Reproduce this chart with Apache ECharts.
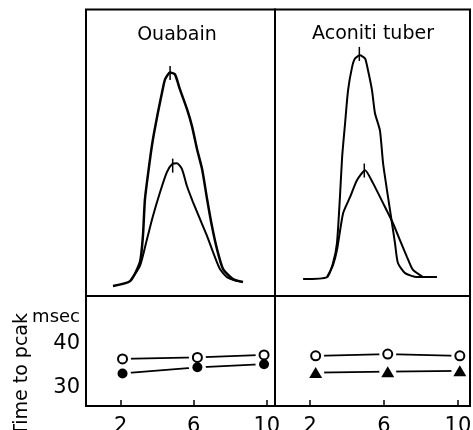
<!DOCTYPE html>
<html>
<head>
<meta charset="utf-8">
<script src="https://cdn.jsdelivr.net/npm/echarts@6/dist/echarts.min.js"></script>
<style>
  html, body { margin: 0; padding: 0; background: #fff; }
  #main { width: 473px; height: 430px; }
</style>
</head>
<body>
<div id="main"></div>
<script>
// top panels: action potential traces, [time, amplitude] in arbitrary units
const ouabainHigh = [[14.5, 3.5], [23.7, 5.2], [29.0, 11.8], [30.6, 20.9], [31.7, 33.8], [34.4, 47.7], [36.0, 54.7],
  [38.7, 64.1], [40.9, 71.1], [42.5, 75.6], [45.2, 78.0], [47.8, 77.4], [50.5, 72.1], [54.3, 65.2], [57.0, 59.2],
  [59.7, 51.2], [62.4, 44.3], [65.1, 33.8], [67.7, 24.4], [70.4, 16.4], [73.7, 9.4], [79.0, 5.9], [84.4, 4.9]];
const ouabainLow = [[23.7, 5.2], [29.0, 10.5], [32.8, 19.9], [36.0, 27.9], [39.8, 36.2], [43.5, 43.2], [46.2, 46.0],
  [48.9, 46.3], [51.6, 44.3], [54.3, 38.3], [57.5, 32.8], [61.3, 26.8], [65.1, 20.9], [68.3, 15.3], [72.0, 9.4],
  [75.8, 6.6], [81.2, 5.2]];
const aconitiHigh = [[15.7, 5.9], [27.8, 6.6], [30.8, 11.5], [32.8, 18.5], [34.3, 34.5], [35.4, 48.4], [36.9, 60.3],
  [38.4, 71.8], [40.4, 79.8], [41.9, 82.9], [44.4, 84.0], [47.0, 82.9], [48.5, 78.7], [50.5, 71.8], [52.0, 63.8],
  [54.5, 57.8], [56.1, 46.3], [58.6, 34.5], [60.6, 25.4], [62.1, 18.5], [63.6, 11.5], [67.2, 8.0], [73.2, 6.6], [83.3, 6.6]];
const aconitiLow = [[27.8, 6.6], [30.8, 10.8], [32.8, 16.0], [35.9, 28.9], [39.4, 34.5], [42.9, 40.4], [47.0, 43.9],
  [51.0, 39.4], [56.1, 32.4], [61.1, 25.4], [64.6, 19.5], [68.2, 13.6], [71.2, 9.1], [76.3, 6.6]];
const ouabainPeaks = [[45.2, 77.8], [46.6, 45.5]];
const aconitiPeaks = [[44.1, 84.5], [46.6, 43.8]];

// bottom panels: time to peak (msec)
const ouabainX = [2.1, 6.2, 9.85];
const ouabainOpen = [36.4, 36.75, 37.3];
const ouabainFilled = [33.1, 34.5, 35.2];
const aconitiX = [2.3, 6.2, 10.1];
const aconitiOpen = [37.1, 37.5, 37.1];
const aconitiTri = [33.3, 33.5, 33.7];
const xTicks = [2, 6, 10];
const yTicks = [30, 40];

const FONT = 'DejaVu Sans';
const pairs = (xs, ys) => xs.map((x, i) => [x, ys[i]]);

const chart = echarts.init(document.getElementById('main'));

const gridBase = { show: true, borderColor: '#000', borderWidth: 2, backgroundColor: 'transparent', outerBoundsMode: 'none' };
const hiddenAxis = { show: false };

function traceSeries(data, idx, width) {
  return {
    type: 'line', xAxisIndex: idx, yAxisIndex: idx, data: data,
    showSymbol: false, smooth: 0.2, silent: true,
    lineStyle: { color: '#000', width: width }
  };
}
function peakSeries(data, idx) {
  return {
    type: 'scatter', xAxisIndex: idx, yAxisIndex: idx, data: data,
    symbol: 'rect', symbolSize: [1.5, 14], itemStyle: { color: '#000', opacity: 1 }, silent: true
  };
}
function tpLine(data, idx) {
  return {
    type: 'line', xAxisIndex: idx, yAxisIndex: idx, data: data, z: 2,
    showSymbol: false, silent: true, lineStyle: { color: '#000', width: 1.7 }
  };
}
function tpMask(data, idx) {
  return {
    type: 'scatter', xAxisIndex: idx, yAxisIndex: idx, data: data, z: 3,
    symbol: 'circle', symbolSize: 17, itemStyle: { color: '#fff', opacity: 1 }, silent: true
  };
}
function tpMarks(data, idx, symbol, size) {
  return {
    type: 'scatter', xAxisIndex: idx, yAxisIndex: idx, data: data, z: 4,
    symbol: symbol, symbolSize: size, silent: true,
    itemStyle: { color: '#000', opacity: 1, borderWidth: symbol === 'emptyCircle' ? 1.8 : 0 }
  };
}

const bottomX = (min, max) => ({
  type: 'value', min: min, max: max,
  axisLine: { show: false }, splitLine: { show: false },
  axisTick: { show: true, inside: true, length: 6, customValues: xTicks, lineStyle: { color: '#000', width: 1.5 } },
  axisLabel: { customValues: xTicks, margin: 10, color: '#000', fontSize: 21, fontFamily: FONT }
});

const option = {
  animation: false,
  grid: [
    Object.assign({ left: 86, top: 9.5, width: 189, height: 286.5 }, gridBase),
    Object.assign({ left: 275, top: 9.5, width: 195, height: 286.5 }, gridBase),
    Object.assign({ left: 86, top: 296, width: 189, height: 110 }, gridBase),
    Object.assign({ left: 275, top: 296, width: 195, height: 110 }, gridBase)
  ],
  xAxis: [
    Object.assign({ gridIndex: 0, type: 'value', min: 0, max: 101.6 }, hiddenAxis),
    Object.assign({ gridIndex: 1, type: 'value', min: 1.5, max: 100 }, hiddenAxis),
    Object.assign({ gridIndex: 2 }, bottomX(0.1, 10.45)),
    Object.assign({ gridIndex: 3 }, bottomX(0.1, 10.65))
  ],
  yAxis: [
    Object.assign({ gridIndex: 0, type: 'value', min: 0, max: 100 }, hiddenAxis),
    Object.assign({ gridIndex: 1, type: 'value', min: 0, max: 100 }, hiddenAxis),
    {
      gridIndex: 2, type: 'value', min: 25.7, max: 50.7,
      axisLine: { show: false }, axisTick: { show: false }, splitLine: { show: false },
      axisLabel: { customValues: yTicks, margin: 6, color: '#000', fontSize: 21, fontFamily: FONT }
    },
    Object.assign({ gridIndex: 3, type: 'value', min: 25.7, max: 50.7 }, hiddenAxis)
  ],
  series: [
    traceSeries(ouabainHigh, 0, 2.5),
    traceSeries(ouabainLow, 0, 2),
    peakSeries(ouabainPeaks, 0),
    traceSeries(aconitiHigh, 1, 2),
    traceSeries(aconitiLow, 1, 2),
    peakSeries(aconitiPeaks, 1),

    tpLine(pairs(ouabainX, ouabainOpen), 2),
    tpLine(pairs(ouabainX, ouabainFilled), 2),
    tpMask(pairs(ouabainX, ouabainOpen), 2),
    tpMask(pairs(ouabainX, ouabainFilled), 2),
    tpMarks(pairs(ouabainX, ouabainOpen), 2, 'emptyCircle', 9),
    tpMarks(pairs(ouabainX, ouabainFilled), 2, 'circle', 10),

    tpLine(pairs(aconitiX, aconitiOpen), 3),
    tpLine(pairs(aconitiX, aconitiTri), 3),
    tpMask(pairs(aconitiX, aconitiOpen), 3),
    tpMask(pairs(aconitiX, aconitiTri), 3),
    tpMarks(pairs(aconitiX, aconitiOpen), 3, 'emptyCircle', 9),
    tpMarks(pairs(aconitiX, aconitiTri), 3, 'triangle', [13, 11])
  ],
  graphic: [
    { type: 'text', x: 177, y: 35, style: { text: 'Ouabain', font: '19px "DejaVu Sans"', fill: '#000', textAlign: 'center', textVerticalAlign: 'middle' } },
    { type: 'text', x: 373, y: 34, style: { text: 'Aconiti tuber', font: '19px "DejaVu Sans"', fill: '#000', textAlign: 'center', textVerticalAlign: 'middle' } },
    { type: 'text', x: 80, y: 317, style: { text: 'msec', font: '18px "DejaVu Sans"', fill: '#000', textAlign: 'right', textVerticalAlign: 'middle' } },
    { type: 'text', x: 22, y: 313, rotation: Math.PI / 2, style: { text: 'Time to pcak', font: '19px "DejaVu Sans"', fill: '#000', textAlign: 'right', textVerticalAlign: 'middle' } }
  ]
};

chart.setOption(option);
</script>
</body>
</html>
